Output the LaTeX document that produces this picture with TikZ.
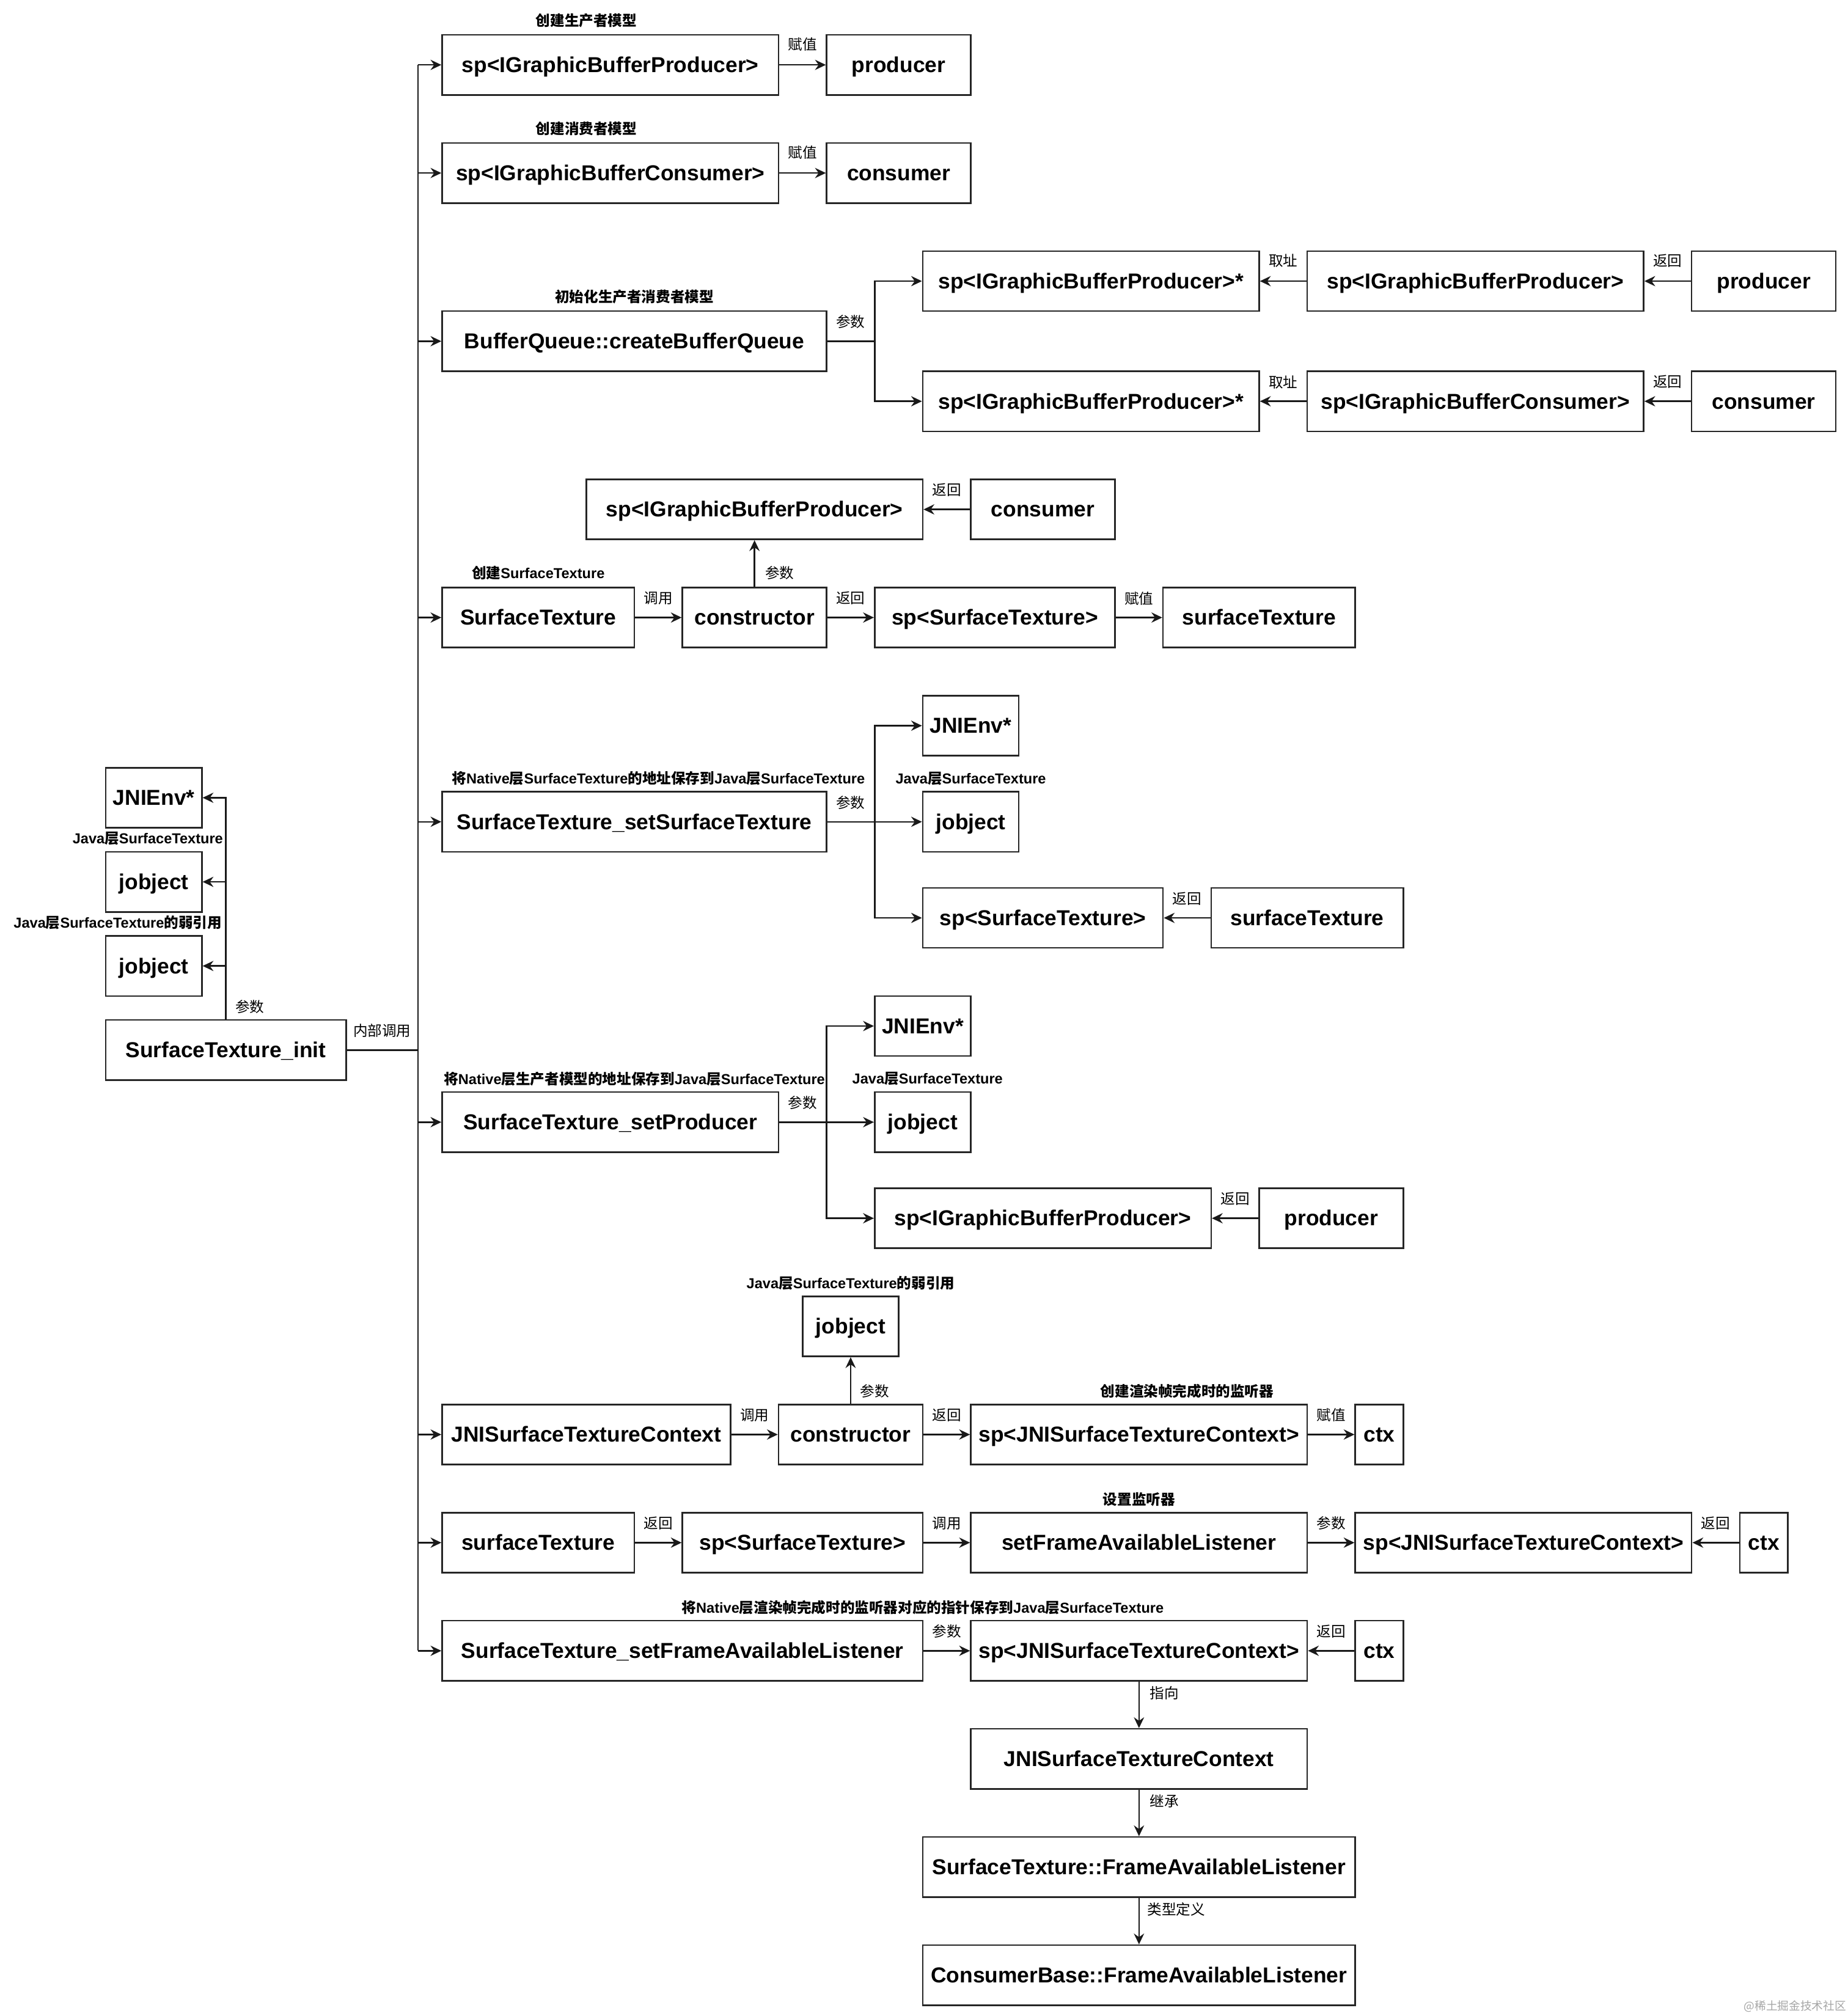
\documentclass[tikz,border=0pt]{standalone}
\usepackage{fontspec}
\setmainfont{Liberation Sans}
\newfontfamily\cjk{Noto Sans CJK SC}
\usetikzlibrary{arrows.meta}
\newcommand\zh[1]{{\cjk #1}}
\tikzset{
  bx/.style={draw=black!85, line width=1.3pt, minimum height=50pt, inner sep=0pt, fill=white,
    text height=12.6pt, text depth=0pt,
    font=\bfseries\fontsize{18}{22}\selectfont},
  wA/.style={bx, minimum width=40pt},
  wB/.style={bx, minimum width=80pt},
  wC/.style={bx, minimum width=120pt},
  wD/.style={bx, minimum width=160pt},
  wE/.style={bx, minimum width=200pt},
  wF/.style={bx, minimum width=240pt},
  wG/.style={bx, minimum width=280pt},
  wH/.style={bx, minimum width=320pt},
  wI/.style={bx, minimum width=360pt},
  wJ/.style={bx, minimum width=400pt},
  ln/.style={line width=1.3pt, draw=black!90},
  arr/.style={ln, -{Stealth[length=9pt,width=8.5pt,inset=3pt]}},
  elab/.style={font=\cjk\fontsize{12}{14}\selectfont, inner sep=0pt},
  glab/.style={font=\bfseries\fontsize{12}{14}\selectfont, inner sep=0pt},
}
\begin{document}
\begin{tikzpicture}[x=1pt,y=-1pt]
\fill[white] (0,0) rectangle (1538,1678);
\useasboundingbox (0,0) rectangle (1538,1678);

% ---------- bus ----------
\coordinate (bus) at (348,54);
\coordinate (busend) at (348,1374);
\draw[ln] (bus) -- (busend);

% ---------- left ----------
\node[wB] (env0) at (128,664) {JNIEnv*};
\node[wB] (jo0) at (128,734) {jobject};
\node[wB] (jo00) at (128,804) {jobject};
\node[wE] (init) at (188,874) {SurfaceTexture\_init};
\draw[arr] (init.north) |- (env0.east);
\draw[arr] (init.north) |- (jo0.east);
\draw[arr] (init.north) |- (jo00.east);
\draw[ln] (init.east) -- (bus |- init.east);
\node[glab] (gl1) at (123,698) {Java\zh{层}SurfaceTexture};
\node[glab] (gl2) at (98,768) {Java\zh{层}SurfaceTexture\zh{的弱引用}};
\node[elab] (el1) at (208,838) {参数};
\node[elab] (el2) at (318,858) {内部调用};

% ---------- row 1 ----------
\node[wG] (n1a) at (508,54) {sp<IGraphicBufferProducer>};
\node[wC] (n1b) at (748,54) {producer};
\draw[arr] (bus |- n1a.west) -- (n1a.west);
\draw[arr] (n1a) -- (n1b);
\node[glab] (g1) at (488,17) {\zh{创建生产者模型}};
\node[elab] (e1) at (668,37) {赋值};

% ---------- row 2 ----------
\node[wG] (n2a) at (508,144) {sp<IGraphicBufferConsumer>};
\node[wC] (n2b) at (748,144) {consumer};
\draw[arr] (bus |- n2a.west) -- (n2a.west);
\draw[arr] (n2a) -- (n2b);
\node[glab] (g2) at (488,107) {\zh{创建消费者模型}};
\node[elab] (e2) at (668,127) {赋值};

% ---------- row 3 ----------
\node[wH] (bq) at (528,284) {BufferQueue::createBufferQueue};
\node[wG] (p3a) at (908,234) {sp<IGraphicBufferProducer>*};
\node[wG] (p3b) at (1228,234) {sp<IGraphicBufferProducer>};
\node[wC] (p3c) at (1468,234) {producer};
\node[wG] (c3a) at (908,334) {sp<IGraphicBufferProducer>*};
\node[wG] (c3b) at (1228,334) {sp<IGraphicBufferConsumer>};
\node[wC] (c3c) at (1468,334) {consumer};
\coordinate (s3) at (728,284);
\draw[arr] (bus |- bq.west) -- (bq.west);
\draw[ln] (bq.east) -- (s3);
\draw[arr] (s3) |- (p3a.west);
\draw[arr] (s3) |- (c3a.west);
\draw[arr] (p3b) -- (p3a);
\draw[arr] (p3c) -- (p3b);
\draw[arr] (c3b) -- (c3a);
\draw[arr] (c3c) -- (c3b);
\node[glab] (g3) at (528,247) {\zh{初始化生产者消费者模型}};
\node[elab] (e3) at (708,268) {参数};
\node[elab] (e4) at (1068,217) {取址};
\node[elab] (e5) at (1388,217) {返回};
\node[elab] (e6) at (1068,318) {取址};
\node[elab] (e7) at (1388,318) {返回};

% ---------- row 4 ----------
\node[wG] (r4sp) at (628,424) {sp<IGraphicBufferProducer>};
\node[wC] (r4c) at (868,424) {consumer};
\node[wD] (st) at (448,514) {SurfaceTexture};
\node[wC] (ctor1) at (628,514) {constructor};
\node[wE] (spst) at (828,514) {sp<SurfaceTexture>};
\node[wD] (stv) at (1048,514) {surfaceTexture};
\draw[arr] (bus |- st.west) -- (st.west);
\draw[arr] (r4c) -- (r4sp);
\draw[arr] (st) -- (ctor1);
\draw[arr] (ctor1) -- (r4sp);
\draw[arr] (ctor1) -- (spst);
\draw[arr] (spst) -- (stv);
\node[elab] (e8) at (788,408) {返回};
\node[glab] (g4) at (448,477) {\zh{创建}SurfaceTexture};
\node[elab] (e9) at (548,498) {调用};
\node[elab] (e10) at (649,477) {参数};
\node[elab] (e11) at (708,498) {返回};
\node[elab] (e12) at (948,498) {赋值};

% ---------- row 5 ----------
\node[wH] (sst) at (528,684) {SurfaceTexture\_setSurfaceTexture};
\node[wB] (env1) at (808,604) {JNIEnv*};
\node[wB] (jo1) at (808,684) {jobject};
\node[wE] (spst2) at (868,764) {sp<SurfaceTexture>};
\node[wD] (stv2) at (1088,764) {surfaceTexture};
\coordinate (s5) at (728,684);
\draw[arr] (bus |- sst.west) -- (sst.west);
\draw[ln] (sst.east) -- (s5);
\draw[arr] (s5) |- (env1.west);
\draw[arr] (s5) -- (jo1.west);
\draw[arr] (s5) |- (spst2.west);
\draw[arr] (stv2) -- (spst2);
\node[glab] (g5) at (548,648) {\zh{将}Native\zh{层}SurfaceTexture\zh{的地址保存到}Java\zh{层}SurfaceTexture};
\node[glab] (g6) at (808,648) {Java\zh{层}SurfaceTexture};
\node[elab] (e13) at (708,668) {参数};
\node[elab] (e14) at (988,748) {返回};

% ---------- row 6 ----------
\node[wG] (sp6) at (508,934) {SurfaceTexture\_setProducer};
\node[wB] (env2) at (768,854) {JNIEnv*};
\node[wB] (jo2) at (768,934) {jobject};
\node[wG] (gbp6) at (868,1014) {sp<IGraphicBufferProducer>};
\node[wC] (prod6) at (1108,1014) {producer};
\coordinate (s6) at (688,934);
\draw[arr] (bus |- sp6.west) -- (sp6.west);
\draw[ln] (sp6.east) -- (s6);
\draw[arr] (s6) |- (env2.west);
\draw[arr] (s6) -- (jo2.west);
\draw[arr] (s6) |- (gbp6.west);
\draw[arr] (prod6) -- (gbp6);
\node[glab] (g7) at (528,898) {\zh{将}Native\zh{层生产者模型的地址保存到}Java\zh{层}SurfaceTexture};
\node[glab] (g8) at (772,898) {Java\zh{层}SurfaceTexture};
\node[elab] (e15) at (668,918) {参数};
\node[elab] (e16) at (1028,998) {返回};

% ---------- row 7 ----------
\node[wB] (jo3) at (708,1104) {jobject};
\node[wF] (jstc) at (488,1194) {JNISurfaceTextureContext};
\node[wC] (ctor2) at (708,1194) {constructor};
\node[wG] (spj1) at (948,1194) {sp<JNISurfaceTextureContext>};
\node[wA] (ctx1) at (1148,1194) {ctx};
\draw[arr] (bus |- jstc.west) -- (jstc.west);
\draw[arr] (jstc) -- (ctor2);
\draw[arr] (ctor2) -- (jo3);
\draw[arr] (ctor2) -- (spj1);
\draw[arr] (spj1) -- (ctx1);
\node[glab] (g9) at (708,1068) {Java\zh{层}SurfaceTexture\zh{的弱引用}};
\node[glab] (g10) at (988,1158) {\zh{创建渲染帧完成时的监听器}};
\node[elab] (e17) at (628,1178) {调用};
\node[elab] (e18) at (728,1158) {参数};
\node[elab] (e19) at (788,1178) {返回};
\node[elab] (e20) at (1108,1178) {赋值};

% ---------- row 8 ----------
\node[wD] (stv3) at (448,1284) {surfaceTexture};
\node[wE] (spst3) at (668,1284) {sp<SurfaceTexture>};
\node[wG] (sfal) at (948,1284) {setFrameAvailableListener};
\node[wG] (spj2) at (1268,1284) {sp<JNISurfaceTextureContext>};
\node[wA] (ctx2) at (1468,1284) {ctx};
\draw[arr] (bus |- stv3.west) -- (stv3.west);
\draw[arr] (stv3) -- (spst3);
\draw[arr] (spst3) -- (sfal);
\draw[arr] (sfal) -- (spj2);
\draw[arr] (ctx2) -- (spj2);
\node[glab] (g11) at (948,1248) {\zh{设置监听器}};
\node[elab] (e21) at (548,1268) {返回};
\node[elab] (e22) at (788,1268) {调用};
\node[elab] (e23) at (1108,1268) {参数};
\node[elab] (e24) at (1428,1268) {返回};

% ---------- row 9 ----------
\node[wJ] (stsfal) at (568,1374) {SurfaceTexture\_setFrameAvailableListener};
\node[wG] (spj3) at (948,1374) {sp<JNISurfaceTextureContext>};
\node[wA] (ctx3) at (1148,1374) {ctx};
\draw[arr] (bus |- stsfal.west) -- (stsfal.west);
\draw[arr] (stsfal) -- (spj3);
\draw[arr] (ctx3) -- (spj3);
\node[glab] (g12) at (768,1338) {\zh{将}Native\zh{层渲染帧完成时的监听器对应的指针保存到}Java\zh{层}SurfaceTexture};
\node[elab] (e25) at (788,1358) {参数};
\node[elab] (e26) at (1108,1358) {返回};

% ---------- chain ----------
\node[wG] (jstc2) at (948,1464) {JNISurfaceTextureContext};
\node[wI] (stfal) at (948,1554) {SurfaceTexture::FrameAvailableListener};
\node[wI] (cbfal) at (948,1644) {ConsumerBase::FrameAvailableListener};
\draw[arr] (spj3) -- (jstc2);
\draw[arr] (jstc2) -- (stfal);
\draw[arr] (stfal) -- (cbfal);
\node[elab] (e27) at (969,1409) {指向};
\node[elab] (e28) at (969,1499) {继承};
\node[elab] (e29) at (979,1589) {类型定义};

% ---------- watermark ----------
\node[font=\cjk\fontsize{9.5}{11}\selectfont, text=black!35, inner sep=0pt] (wm) at (1494,1670) {@稀土掘金技术社区};
\end{tikzpicture}
\end{document}
